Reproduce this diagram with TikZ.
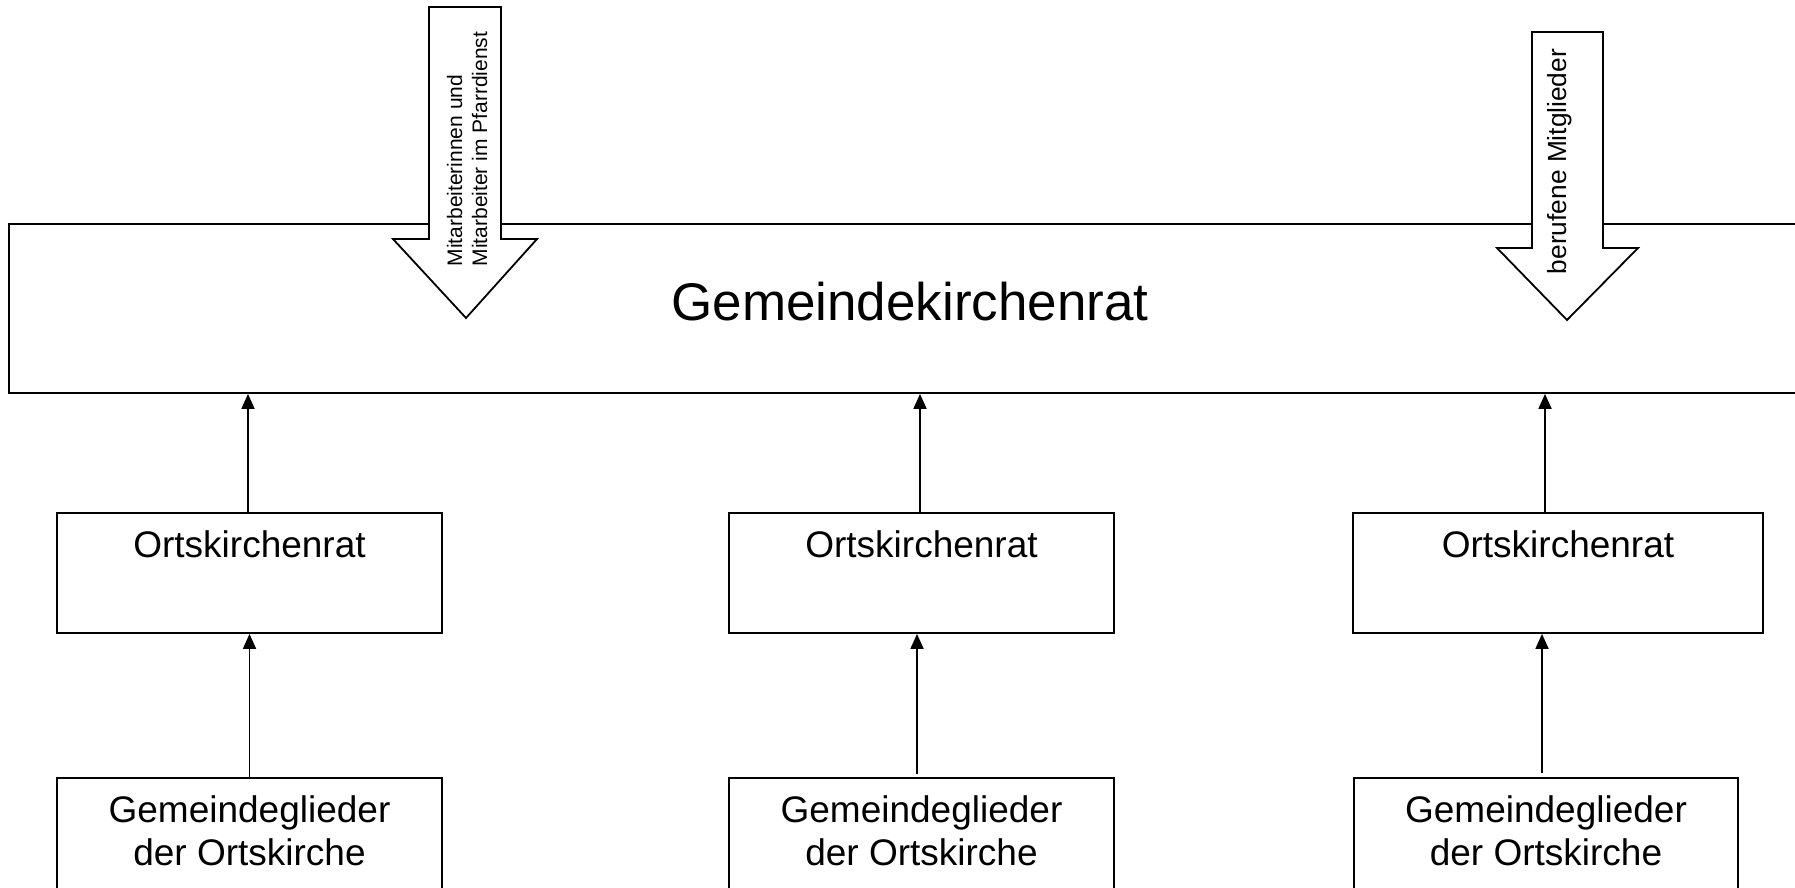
\documentclass[tikz,border=0pt]{standalone}
\usepackage{fontspec}
\setmainfont{Liberation Sans}
\usetikzlibrary{arrows.meta}
\begin{document}
\begin{tikzpicture}[x=1pt,y=-1pt,
  box/.style={draw, line width=1.8pt, inner sep=0pt, fill=white},
  conn/.style={line width=1.8pt, -{Triangle[width=13pt,length=15pt]}},
  blockarrow/.style={draw, line width=1.8pt, fill=white, line join=miter},
  rtext/.style={font=\fontsize{37}{43}\selectfont},
]
\useasboundingbox (0,0) rectangle (1795,888);
\fill[white] (0,0) rectangle (1795,888);
\clip (0,0) rectangle (1795,888);

% main box
\node[box, minimum width=1802pt, minimum height=169pt,
      font=\fontsize{53}{60}\selectfont, text height=38pt, text depth=15pt]
      (gkr) at (910,308.5) {Gemeindekirchenrat};

% Ortskirchenrat boxes
\node[box, rtext, minimum width=385pt, minimum height=120pt, text height=27pt, text depth=59pt]
      (o1) at (249.5,573) {Ortskirchenrat};
\node[box, rtext, minimum width=385pt, minimum height=120pt, text height=27pt, text depth=59pt]
      (o2) at (921.5,573) {Ortskirchenrat};
\node[box, rtext, minimum width=410pt, minimum height=120pt, text height=27pt, text depth=59pt]
      (o3) at (1558,573) {Ortskirchenrat};

% Gemeindeglieder boxes
\node[box, anchor=north, minimum width=385pt, minimum height=140pt] (g1) at (249.5,777) {};
\node[box, anchor=north, minimum width=385pt, minimum height=140pt] (g2) at (921.5,777) {};
\node[box, anchor=north, minimum width=384pt, minimum height=140pt] (g3) at (1546,777) {};
\node[rtext, anchor=north, align=center, inner sep=0pt] (g1t) at ([yshift=-18pt]g1.north) {Gemeindeglieder\\der Ortskirche};
\node[rtext, anchor=north, align=center, inner sep=0pt] (g2t) at ([yshift=-18pt]g2.north) {Gemeindeglieder\\der Ortskirche};
\node[rtext, anchor=north, align=center, inner sep=0pt] (g3t) at ([yshift=-18pt]g3.north) {Gemeindeglieder\\der Ortskirche};

% connectors
\draw[conn] ([xshift=-1.5pt]o1.north) -- ([xshift=-1.5pt]o1.north |- gkr.south);
\draw[conn] ([xshift=-1.5pt]o2.north) -- ([xshift=-1.5pt]o2.north |- gkr.south);
\draw[conn] ([xshift=-13pt]o3.north) -- ([xshift=-13pt]o3.north |- gkr.south);
\draw[conn] (g1.north) -- (g1.north |- o1.south);
\draw[conn, shorten <=3pt] ([xshift=-4.5pt]g2.north) -- ([xshift=-4.5pt]g2.north |- o2.south);
\draw[conn, shorten <=4pt] ([xshift=-4pt]g3.north) -- ([xshift=-4pt]g3.north |- o3.south);

% block arrows
\draw[blockarrow] (429,7) -- (501,7) -- (501,239) -- (537,239) -- (466,318) -- (393,239) -- (429,239) -- cycle;
\draw[blockarrow] (1532,32) -- (1603,32) -- (1603,248) -- (1638,248) -- (1567,320) -- (1497,248) -- (1532,248) -- cycle;
\node[rotate=90, align=left, font=\fontsize{21}{25}\selectfont, inner sep=0pt]
      (t1) at (467,149) {Mitarbeiterinnen und\\Mitarbeiter im Pfarrdienst};
\node[rotate=90, font=\fontsize{26.3}{30}\selectfont, inner sep=0pt]
      (t2) at (1560,161.5) {berufene Mitglieder};
\end{tikzpicture}
\end{document}
